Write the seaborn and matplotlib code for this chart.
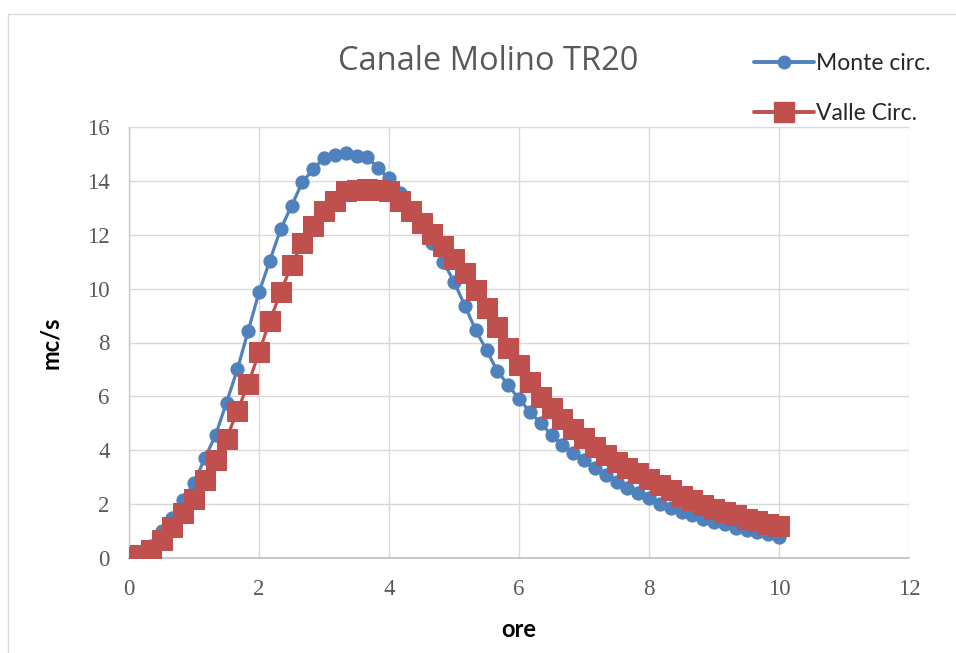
import numpy as np
import pandas as pd
import matplotlib
matplotlib.use("Agg")
import matplotlib.pyplot as plt
from matplotlib.patches import Rectangle
from matplotlib.lines import Line2D
import seaborn as sns

# ---- data ----
minuti = list(range(0, 601, 10))
ore = [m / 60 for m in minuti]

monte = [0.0, 0.15, 0.45, 1.0, 1.5, 2.15, 2.8, 3.7, 4.57, 5.77,
         7.0, 8.43, 9.86, 11.04, 12.21, 13.07, 13.95, 14.43, 14.86, 14.96,
         15.05, 14.94, 14.88, 14.47, 14.09, 13.55, 12.95, 12.35, 11.7, 11.0,
         10.26, 9.37, 8.46, 7.72, 6.94, 6.42, 5.91, 5.43, 5.0, 4.57,
         4.19, 3.91, 3.64, 3.33, 3.08, 2.83, 2.59, 2.4, 2.21, 2.0,
         1.84, 1.71, 1.59, 1.44, 1.34, 1.25, 1.12, 1.03, 0.97, 0.88, 0.79]

valle = [0.03, 0.12, 0.3, 0.67, 1.16, 1.66, 2.2, 2.88, 3.64, 4.43,
         5.46, 6.45, 7.63, 8.81, 9.86, 10.88, 11.68, 12.34, 12.9, 13.27,
         13.64, 13.66, 13.69, 13.66, 13.64, 13.26, 12.88, 12.45, 12.03, 11.57,
         11.09, 10.57, 9.95, 9.27, 8.56, 7.78, 7.16, 6.54, 5.99, 5.58,
         5.15, 4.78, 4.44, 4.13, 3.82, 3.57, 3.33, 3.14, 2.92, 2.71,
         2.51, 2.32, 2.14, 1.97, 1.83, 1.70, 1.58, 1.46, 1.36, 1.26, 1.17]

serie_nomi = ["Monte circ.", "Valle Circ."]
x_ticks = [0, 2, 4, 6, 8, 10, 12]
y_ticks = [0, 2, 4, 6, 8, 10, 12, 14, 16]

df = pd.DataFrame({
    "ore": ore * 2,
    "val": monte + valle,
    "serie": [serie_nomi[0]] * len(ore) + [serie_nomi[1]] * len(ore),
})

BLUE = "#4F81BD"
RED = "#C0504D"

sns.set_theme(style="white")
plt.rcParams["font.family"] = ["Lato", "DejaVu Sans"]

fig = plt.figure(figsize=(9.56, 6.53), dpi=100)
fig.patch.set_facecolor("white")

# outer chart border
fig.add_artist(Rectangle((8 / 956, -0.01), 1.0, 1 - 14 / 653 + 0.01,
                         transform=fig.transFigure, fill=False,
                         edgecolor="#d9d9d9", linewidth=1.0))

ax = fig.add_axes([129 / 956, 1 - 558 / 653, (909 - 129) / 956, (558 - 127) / 653])

sns.lineplot(data=df[df["serie"] == serie_nomi[0]], x="ore", y="val", ax=ax,
             color=BLUE, marker="o", markersize=9.5, markeredgecolor=BLUE,
             linewidth=2.3, legend=False, zorder=3)
sns.lineplot(data=df[df["serie"] == serie_nomi[1]], x="ore", y="val", ax=ax,
             color=RED, marker="s", markersize=14, markeredgecolor=RED,
             linewidth=2.3, legend=False, zorder=4)

ax.set_xlim(0, 12)
ax.set_ylim(0, 16)
ax.set_xticks(x_ticks)
ax.set_yticks(y_ticks)
ax.grid(True, color="#d9d9d9", linewidth=1.0)
for s in ["top", "right"]:
    ax.spines[s].set_visible(False)
ax.spines["left"].set_color("#c8c8c8")
ax.spines["bottom"].set_color("#bfbfbf")
ax.spines["left"].set_linewidth(1.0)
ax.spines["bottom"].set_linewidth(1.2)
ax.tick_params(axis="both", length=0, labelsize=16.5, colors="#595959")
for lab in ax.get_xticklabels() + ax.get_yticklabels():
    lab.set_family(["Liberation Serif", "DejaVu Serif"])
ax.tick_params(axis="y", pad=14)
ax.tick_params(axis="x", pad=15)

ax.set_xlabel("ore", fontsize=17, fontweight="bold", color="black", labelpad=13)
ax.set_ylabel("mc/s", fontsize=17, fontweight="bold", color="black", labelpad=18)

fig.text(488 / 956, 1 - 62 / 653, "Canale Molino TR20", ha="center", va="center",
         fontsize=23.5, color="#595959", family=["Open Sans", "DejaVu Sans"])

handles = [
    Line2D([], [], color=BLUE, marker="o", markersize=9, linewidth=2.8),
    Line2D([], [], color=RED, marker="s", markersize=14, linewidth=2.8),
]
fig.legend(handles, serie_nomi, loc="upper left",
           bbox_to_anchor=(745 / 956, 1 - 44 / 653), frameon=False,
           fontsize=16.5, handlelength=2.6, handletextpad=0.1,
           labelspacing=1.25, borderaxespad=0)

fig.savefig("out.png", dpi=100, facecolor="white")
